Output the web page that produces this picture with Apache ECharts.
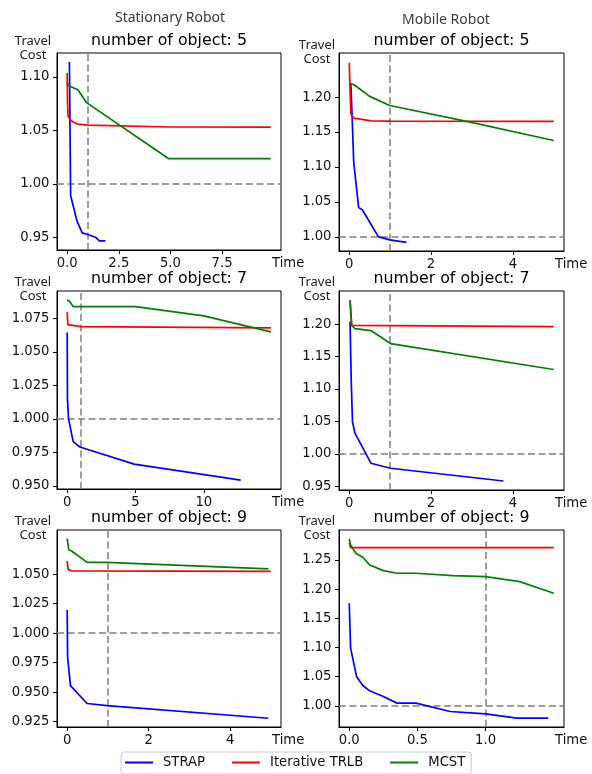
<!DOCTYPE html>
<html>
<head>
<meta charset="utf-8">
<title>Travel Cost vs Time</title>
<script src="https://cdn.jsdelivr.net/npm/echarts@6/dist/echarts.min.js"></script>
<style>
  html, body { margin: 0; padding: 0; background: #fff; }
  #chart { width: 592px; height: 774px; }
</style>
</head>
<body>
<div id="chart"></div>
<script>
// ---- data: [time, travel cost] ----
// Stationary robot, 5 objects
const strapS5 = [[0.11, 1.114], [0.15, 1.03], [0.17, 0.989], [0.48, 0.965], [0.73, 0.954], [1.0, 0.9525], [1.37, 0.950], [1.56, 0.9466], [1.85, 0.9466]];
const trlbS5 = [[0, 1.1037], [0.02, 1.075], [0.05, 1.063], [0.2, 1.059], [0.48, 1.056], [1.0, 1.055], [5.0, 1.0532], [9.85, 1.0531]];
const mcstS5 = [[0, 1.0954], [0.05, 1.092], [0.52, 1.088], [0.94, 1.076], [4.92, 1.0235], [9.85, 1.0235]];
// Mobile robot, 5 objects
const strapM5 = [[0.04, 1.219], [0.065, 1.181], [0.11, 1.107], [0.23, 1.042], [0.32, 1.039], [0.71, 1.0005], [0.99, 0.996], [1.40, 0.9924]];
const trlbM5 = [[0, 1.249], [0.04, 1.176], [0.11, 1.170], [0.54, 1.166], [1.0, 1.1655], [5.0, 1.1653]];
const mcstM5 = [[0, 1.22], [0.11, 1.218], [0.5, 1.201], [0.99, 1.188], [2.9, 1.165], [5.0, 1.138]];
// Stationary robot, 7 objects
const strapS7 = [[0, 1.0646], [0.02, 1.015], [0.1, 1.0], [0.44, 0.983], [0.93, 0.979], [4.9, 0.9662], [12.7, 0.9543]];
const trlbS7 = [[0, 1.080], [0.05, 1.0705], [1.0, 1.069], [14.9, 1.068]];
const mcstS7 = [[0, 1.0889], [0.17, 1.0879], [0.44, 1.0839], [5.0, 1.0839], [10.0, 1.077], [14.9, 1.065]];
// Mobile robot, 7 objects
const strapM7 = [[0.02, 1.2036], [0.05, 1.111], [0.08, 1.049], [0.14, 1.032], [0.53, 0.9856], [1.01, 0.9778], [3.77, 0.9582]];
const trlbM7 = [[0.02, 1.237], [0.06, 1.198], [5.0, 1.196]];
const mcstM7 = [[0.02, 1.236], [0.06, 1.198], [0.14, 1.193], [0.53, 1.190], [1.01, 1.170], [5.0, 1.130]];
// Stationary robot, 9 objects
const strapS9 = [[0, 1.0195], [0.01, 0.980], [0.08, 0.9555], [0.49, 0.9403], [0.98, 0.9386], [4.94, 0.9278]];
const trlbS9 = [[0, 1.061], [0.02, 1.054], [0.1, 1.0528], [5.0, 1.0523]];
const mcstS9 = [[0, 1.080], [0.04, 1.0704], [0.1, 1.0698], [0.49, 1.060], [0.98, 1.060], [4.94, 1.0545]];
// Mobile robot, 9 objects
const strapM9 = [[0, 1.1758], [0.01, 1.0988], [0.054, 1.050], [0.10, 1.0348], [0.15, 1.0257], [0.25, 1.016], [0.35, 1.0046], [0.49, 1.0046], [0.74, 0.9903], [1.0, 0.9863], [1.23, 0.979], [1.46, 0.979]];
const trlbM9 = [[0, 1.2797], [0.01, 1.271], [1.50, 1.271]];
const mcstM9 = [[0, 1.286], [0.01, 1.2757], [0.05, 1.261], [0.10, 1.2546], [0.15, 1.2414], [0.25, 1.2317], [0.35, 1.2272], [0.49, 1.2272], [0.76, 1.2232], [1.0, 1.2215], [1.25, 1.2129], [1.50, 1.193]];

// tick labels
const xTicksS5 = [0, 2.5, 5, 7.5];
const xTicksM5 = [0, 2, 4];
const xTicksS7 = [0, 5, 10];
const xTicksM7 = [0, 2, 4];
const xTicksS9 = [0, 2, 4];
const xTicksM9 = [0, 0.5, 1.0];
const yTicksS5 = [0.95, 1.00, 1.05, 1.10];
const yTicksM5 = [1.00, 1.05, 1.10, 1.15, 1.20];
const yTicksS7 = [0.950, 0.975, 1.000, 1.025, 1.050, 1.075];
const yTicksM7 = [0.95, 1.00, 1.05, 1.10, 1.15, 1.20];
const yTicksS9 = [0.925, 0.950, 0.975, 1.000, 1.025, 1.050];
const yTicksM9 = [1.00, 1.05, 1.10, 1.15, 1.20, 1.25];

const objectCounts = [5, 5, 7, 7, 9, 9];
const seriesNames = ['STRAP', 'Iterative TRLB', 'MCST'];
const seriesColors = ['#0000ff', '#ff0000', '#008000'];

const panels = [
  { lines: [strapS5, trlbS5, mcstS5], xTicks: xTicksS5, xDec: 1, yTicks: yTicksS5, yDec: 2, xMin: -0.49, xMax: 10.35, yMin: 0.938, yMax: 1.1225, grid: { left: 57, top: 53, width: 224, height: 197 } },
  { lines: [strapM5, trlbM5, mcstM5], xTicks: xTicksM5, xDec: 0, yTicks: yTicksM5, yDec: 2, xMin: -0.25, xMax: 5.25, yMin: 0.98, yMax: 1.263, grid: { left: 339, top: 53, width: 225, height: 198 } },
  { lines: [strapS7, trlbS7, mcstS7], xTicks: xTicksS7, xDec: 0, yTicks: yTicksS7, yDec: 3, xMin: -0.745, xMax: 15.645, yMin: 0.9476, yMax: 1.0956, grid: { left: 57, top: 291, width: 224, height: 198 } },
  { lines: [strapM7, trlbM7, mcstM7], xTicks: xTicksM7, xDec: 0, yTicks: yTicksM7, yDec: 2, xMin: -0.25, xMax: 5.25, yMin: 0.9443, yMax: 1.251, grid: { left: 339, top: 291, width: 225, height: 199 } },
  { lines: [strapS9, trlbS9, mcstS9], xTicks: xTicksS9, xDec: 0, yTicks: yTicksS9, yDec: 3, xMin: -0.25, xMax: 5.25, yMin: 0.9204, yMax: 1.0874, grid: { left: 57, top: 530, width: 224, height: 197 } },
  { lines: [strapM9, trlbM9, mcstM9], xTicks: xTicksM9, xDec: 1, yTicks: yTicksM9, yDec: 2, xMin: -0.075, xMax: 1.575, yMin: 0.9637, yMax: 1.3013, grid: { left: 339, top: 530, width: 225, height: 197 } },
];

const tickFont = { fontFamily: 'DejaVu Sans', fontSize: 13.2, color: '#111' };

const chart = echarts.init(document.getElementById('chart'), null, { renderer: 'canvas' });

function getOptions() {
  const grid = [];
  const xAxis = [];
  const yAxis = [];
  const series = [];
  const graphic = [];

  panels.forEach((p, i) => {
    grid.push({
      left: p.grid.left,
      top: p.grid.top,
      width: p.grid.width,
      height: p.grid.height,
      show: true,
      borderColor: '#000',
      borderWidth: 1,
      containLabel: false,
      outerBoundsMode: 'none',
    });
    xAxis.push({
      type: 'value',
      gridIndex: i,
      min: p.xMin,
      max: p.xMax,
      splitLine: { show: false },
      axisLine: { show: true, onZero: false, lineStyle: { color: '#000', width: 1 } },
      axisTick: { show: true, length: 4, lineStyle: { color: '#000' }, customValues: p.xTicks },
      axisLabel: {
        ...tickFont,
        margin: 7,
        customValues: p.xTicks,
        formatter: (v) => Number(v).toFixed(p.xDec),
      },
    });
    yAxis.push({
      type: 'value',
      gridIndex: i,
      min: p.yMin,
      max: p.yMax,
      splitLine: { show: false },
      axisLine: { show: true, onZero: false, lineStyle: { color: '#000', width: 1 } },
      axisTick: { show: true, length: 4, lineStyle: { color: '#000' }, customValues: p.yTicks },
      axisLabel: {
        ...tickFont,
        margin: 7.5,
        customValues: p.yTicks,
        formatter: (v) => Number(v).toFixed(p.yDec),
      },
    });

    p.lines.forEach((data, k) => {
      const s = {
        name: seriesNames[k],
        type: 'line',
        xAxisIndex: i,
        yAxisIndex: i,
        data: data,
        showSymbol: false,
        symbol: 'none',
        lineStyle: { color: seriesColors[k], width: 1.7 },
        itemStyle: { color: seriesColors[k] },
        z: 3,
      };
      if (k === 0) {
        // reference lines at time = 1 and cost = 1
        s.markLine = {
          silent: true,
          symbol: 'none',
          label: { show: false },
          lineStyle: { color: '#808080', type: [7, 3.5], width: 1.5 },
          data: [{ xAxis: 1 }, { yAxis: 1 }],
          z: 2,
        };
      }
      series.push(s);
    });

    const g = p.grid;
    const cx = g.left + g.width / 2;
    graphic.push({
      type: 'text',
      style: {
        text: 'number of object: ' + objectCounts[i],
        x: cx, y: g.top - 12,
        font: '15.8px "DejaVu Sans"',
        fill: '#000',
        textAlign: 'center', textVerticalAlign: 'middle',
        align: 'center', verticalAlign: 'middle',
      },
    });
    graphic.push({
      type: 'text',
      style: {
        text: 'Time',
        x: g.left + g.width - 9, y: g.top + g.height + 14,
        font: '13.2px "DejaVu Sans"',
        fill: '#111',
        textAlign: 'left', textVerticalAlign: 'middle',
        align: 'left', verticalAlign: 'middle',
      },
    });
    const tcX = i % 2 === 0 ? 33 : 317;
    const tcY = i === 0 ? 48.5 : (i === 1 ? 52.5 : g.top - 1.5);
    graphic.push({
      type: 'text',
      style: {
        text: 'Travel\nCost',
        x: tcX, y: tcY,
        font: '13px "Noto Sans"',
        lineHeight: 14.5,
        fill: '#222',
        textAlign: 'center', textVerticalAlign: 'middle',
        align: 'center', verticalAlign: 'middle',
      },
    });
  });

  graphic.push({
    type: 'text',
    style: {
      text: 'Stationary Robot', x: 170, y: 18,
      font: '14px "Noto Sans"', fill: '#3a3a3a',
      textAlign: 'center', textVerticalAlign: 'middle', align: 'center', verticalAlign: 'middle',
    },
  });
  graphic.push({
    type: 'text',
    style: {
      text: 'Mobile Robot', x: 446, y: 20.5,
      font: '14px "Noto Sans"', fill: '#3a3a3a',
      textAlign: 'center', textVerticalAlign: 'middle', align: 'center', verticalAlign: 'middle',
    },
  });

  return {
    animation: false,
    backgroundColor: '#fff',
    grid,
    xAxis,
    yAxis,
    series,
    graphic,
    legend: {
      data: seriesNames,
      left: 121,
      top: 752,
      orient: 'horizontal',
      icon: 'rect',
      itemWidth: 28,
      itemHeight: 2,
      itemGap: 27,
      padding: [4, 6, 5, 4],
      borderColor: '#cccccc',
      borderWidth: 1,
      borderRadius: 3,
      backgroundColor: '#fff',
      textStyle: { fontFamily: 'DejaVu Sans', fontSize: 13.2, color: '#111', padding: [0, 0, 0, 5] },
    },
  };
}

chart.setOption(getOptions());
</script>
</body>
</html>
